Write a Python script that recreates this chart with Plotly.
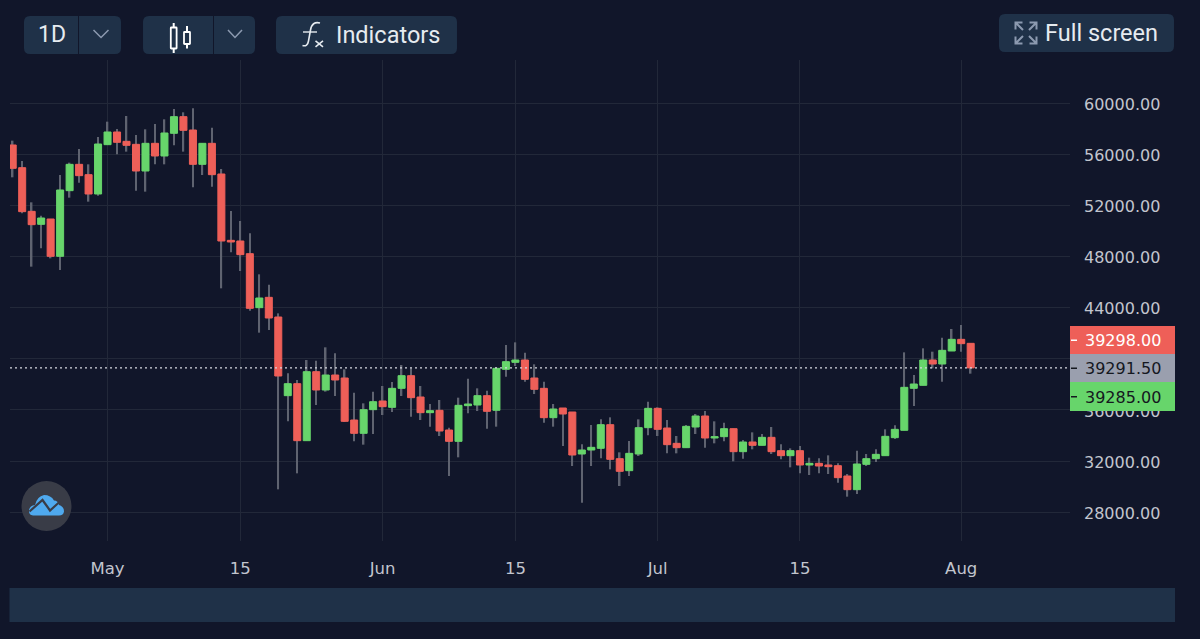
import plotly.graph_objects as go

opens = [56743,54968,51549,50531,50949,48026,53167,55229,54420,52906,56769,57761,57030,56795,54707,56874,55882,57657,58962,57917,55229,56874,54472,49278,49226,48234,
44006,44815,43275,37115,38055,33592,38994,37559,38734,38499,35210,34166,36019,36698,36202,37690,38681,37011,35784,35967,34427,33540,36332,36385,37115,
35967,39177,39725,39908,38499,37690,35393,36150,35836,32548,32861,32991,34845,32183,31243,32548,34610,36124,34584,33383,33044,34662,35523,33801,33905,34531,32731,33487,33226,33853,
32809,32417,32809,31687,31817,31687,31634,30825,29755,31739,32183,32417,33827,34401,37690,37924,39908,39595,40613,41526,41213]
highs = [57082,55490,52254,51210,50949,54394,55360,56430,55229,57369,58570,57996,59014,57526,57970,58387,58753,59562,59301,59614,56874,58100,54864,51575,50792,49827,
46616,45807,43562,38864,38342,39908,39856,40900,40430,39177,37350,36515,37429,37872,38186,39516,39256,37872,36463,36776,34610,36959,38447,37690,37507,
39300,41082,41291,40482,39569,38212,36463,36150,35836,33305,34819,35262,35419,32679,33566,35262,36646,36202,35210,33957,34819,35680,35915,35106,35001,34531,33644,34244,34114,34662,
33305,32991,33174,32261,32209,32443,31817,30982,32809,32548,32913,34479,34792,40508,38733,40822,40560,41657,42335,42649,41213]
lows = [54211,51392,47217,48652,47869,46956,52619,53794,52306,52776,56769,56012,56221,53167,53089,55229,55229,56717,56221,53428,54394,53480,45520,48339,46877,43771,
42048,42257,29781,35106,31034,33592,36385,37429,37089,35053,33540,33279,34114,35601,35836,37089,35471,35210,34688,33957,30825,32287,35732,35915,34531,
34688,38603,39438,38212,37246,34999,34688,33174,31608,28737,31608,32209,31347,30042,30825,32391,34010,33957,32600,32600,33044,34114,33044,33383,33540,31974,32183,32913,33226,32548,
32130,31504,31034,30904,31034,30982,30303,29207,29416,31608,31921,32417,33722,34401,36306,37924,39256,38211,40613,40560,38838]
closes = [54916,51523,50505,51027,48026,53220,55229,54342,52906,56821,57761,56952,56717,54707,56874,55882,57683,58962,57891,55229,56874,54420,49226,49148,48156,43953,
44763,43197,38655,38055,33592,38994,37559,38734,38342,35106,34166,36019,36645,36254,37690,38681,36959,35784,35941,34349,33540,36359,36463,37115,35889,
39256,39778,39908,38394,37611,35393,36071,35680,32470,32861,33070,34845,32130,31191,32600,34610,36124,34479,33279,33044,34714,35523,33801,33905,34531,32731,33487,33226,33853,32731,
32417,32809,31687,31817,31608,31556,30695,29755,31765,32183,32522,33931,34479,37768,38029,39908,39595,40665,41526,41187,39291]

y_ticks = [28000,32000,36000,40000,44000,48000,52000,56000,60000]
y_tick_labels = ["28000.00","32000.00","36000.00","","44000.00","48000.00","52000.00","56000.00","60000.00"]
x_tick_positions = [10,24,39,53,68,83,100]
x_tick_labels = ["May","15","Jun","15","Jul","15","Aug"]
ask_price, mid_price, bid_price = 39298.00, 39291.50, 39285.00

BG="#11162a"; GRID="#222839"; PANEL="#1f3148"; RED="#ee5f58"; GREEN="#67d56b"; WICK="#5f6370"
TXT="#c2c5ce"; UI="#e6ebf0"; ICON="#8c9ab0"
W,H=1200,639
px=lambda x:x/W
py=lambda y:1-y/H

def path(cmds):
    out=[]
    for c in cmds:
        vals=c[1:]
        pts=[]
        for i in range(0,len(vals),2):
            pts.append(f"{px(vals[i]):.5f},{py(vals[i+1]):.5f}")
        out.append(c[0]+" ".join(pts))
    return " ".join(out)

def rrect(x0,y0,x1,y1,r=6):
    return path([("M",x0+r,y0),("L",x1-r,y0),("Q",x1,y0,x1,y0+r),("L",x1,y1-r),("Q",x1,y1,x1-r,y1),
                 ("L",x0+r,y1),("Q",x0,y1,x0,y1-r),("L",x0,y0+r),("Q",x0,y0,x0+r,y0),("Z",)])

shapes=[]
def fill(p,color):
    shapes.append(dict(type="path",path=p,xref="paper",yref="paper",fillcolor=color,line=dict(width=0),layer="above"))
def stroke(p,color,w=1.5):
    shapes.append(dict(type="path",path=p,xref="paper",yref="paper",line=dict(color=color,width=w),layer="above"))
def box(x0,y0,x1,y1,color):
    shapes.append(dict(type="rect",xref="paper",yref="paper",x0=px(x0),x1=px(x1),y0=py(y0),y1=py(y1),fillcolor=color,line=dict(width=0),layer="above"))

# current price line
shapes.append(dict(type="line",xref="paper",yref="y",x0=px(10),x1=px(1070),y0=mid_price,y1=mid_price,
                   line=dict(color="#d5d8df",width=1.3,dash="2px,3px"),layer="above"))

# toolbar
fill(rrect(24,16,121,54),PANEL); fill(rrect(143,16,255,54),PANEL); fill(rrect(276,16,457,54),PANEL); fill(rrect(999,14,1174,52),PANEL)
box(78,16,79,54,BG); box(213,16,214,54,BG)
stroke(path([("M",93.5,30),("L",101,37.5),("L",108.5,30)]),ICON,1.5)
stroke(path([("M",228,30),("L",235,37.5),("L",242,30)]),ICON,1.5)
# candle icon
stroke(path([("M",173.7,23),("L",173.7,27.5),("M",173.7,48.5),("L",173.7,53)]),"#fff",2)
stroke(rrect(170.8,27.5,176.6,48.5,0.5),"#fff",1.8)
stroke(path([("M",187,26),("L",187,32),("M",187,44),("L",187,48.5)]),"#fff",2)
stroke(rrect(184,32,190,44,0.5),"#fff",1.8)
# fx icon
stroke(path([("M",320,23),("Q",312,21,310.5,30),("L",308.5,41),("Q",307.5,47,302.5,45.5)]),UI,1.6)
stroke(path([("M",303,32),("L",317,32)]),UI,1.4)
stroke(path([("M",315.5,41),("L",323,47),("M",323,41),("L",315.5,47)]),UI,1.6)
# fullscreen icon
for (cx,cy,sx,sy) in [(1015.5,22.5,1,1),(1036.5,22.5,-1,1),(1015.5,43.5,1,-1),(1036.5,43.5,-1,-1)]:
    stroke(path([("M",cx+7*sx,cy),("L",cx,cy),("L",cx,cy+7*sy),("M",cx,cy),("L",cx+7.5*sx,cy+7.5*sy)]),ICON,2)

# price tags
box(1070,326,1175,354,RED); box(1070,354,1175,382,"#9a9fae"); box(1070,382,1175,411,GREEN)
box(1071,339.5,1077,341,"#ffffff"); box(1071,367.5,1077,369,"#15181f"); box(1071,396,1077,397.5,"#15181f")

# range bar
box(9.5,588,1175,622,PANEL)

# logo
shapes.append(dict(type="circle",xref="paper",yref="paper",x0=px(21.5),x1=px(71.5),y0=py(531),y1=py(481),fillcolor="#393c47",line=dict(width=0),layer="above"))
fill(path([("M",33,515.5),("Q",28.5,515,29,510),("Q",30,505.5,35,505),("Q",37,496.5,44,495),("Q",51,495,54,500.5),
           ("Q",58,500.5,59,505),("Q",64,506.5,64,511.5),("Q",63.5,515.5,59,515.5),("Z",)]),"#4fa9ee")
stroke(path([("M",29.5,511.5),("L",42.5,500),("L",50,510.5),("L",60,501.5)]),"#393c47",2.2)

xs=list(range(len(opens)))
body_hi=[max(o,c) for o,c in zip(opens,closes)]
body_lo=[min(o,c) for o,c in zip(opens,closes)]

fig=go.Figure()
fig.add_trace(go.Bar(x=xs,base=lows,y=[h-l for h,l in zip(highs,lows)],width=0.16,
                     marker=dict(color=WICK,line=dict(width=0)),hoverinfo="skip",showlegend=False))
fig.add_trace(go.Candlestick(x=xs,open=opens,high=body_hi,low=body_lo,close=closes,showlegend=False,
    increasing=dict(fillcolor=GREEN,line=dict(color=GREEN,width=1)),
    decreasing=dict(fillcolor=RED,line=dict(color=RED,width=1)),whiskerwidth=0))

ann=[]
def text(x,y,s,color,size,font="Roboto",anchor="left"):
    ann.append(dict(xref="paper",yref="paper",x=px(x),y=py(y),text=s,showarrow=False,xanchor=anchor,yanchor="middle",
                    font=dict(color=color,size=size,family=font)))
text(52,34.5,"1D",UI,23,anchor="center")
text(334,34.5,"Indicators",UI,23.5)
text(1043,33,"Full screen",UI,23.5)
tagfont="DejaVu Sans"
text(1083,340.5,f"{ask_price:.2f}","#ffffff",16,tagfont)
text(1083,368.5,f"{mid_price:.2f}","#15181f",16,tagfont)
text(1083,397,f"{bid_price:.2f}","#15181f",16,tagfont)

fig.update_layout(width=W,height=H,margin=dict(l=0,r=0,t=0,b=0),paper_bgcolor=BG,plot_bgcolor=BG,
    shapes=shapes,annotations=ann,barmode="overlay",boxgap=0.26,boxgroupgap=0,showlegend=False,
    xaxis=dict(domain=[px(10),px(1070)],range=[-0.285,111.47],tickmode="array",tickvals=x_tick_positions,ticktext=x_tick_labels,
               showgrid=True,gridcolor=GRID,gridwidth=1,zeroline=False,showline=False,ticks="",
               rangeslider=dict(visible=False),ticklabelstandoff=15,
               tickfont=dict(color=TXT,size=16.5,family="DejaVu Sans")),
    yaxis=dict(domain=[py(541),py(60)],range=[25736,63398],side="right",tickmode="array",tickvals=y_ticks,ticktext=y_tick_labels,
               showgrid=True,gridcolor=GRID,gridwidth=1,zeroline=False,showline=False,ticks="",ticklabelstandoff=13,ticklabelshift=1,
               tickfont=dict(color=TXT,size=16,family="DejaVu Sans")))
fig.write_html("out.html",config=dict(displayModeBar=False),post_script="document.body.style.margin='0';document.body.style.background='"+BG+"';")
